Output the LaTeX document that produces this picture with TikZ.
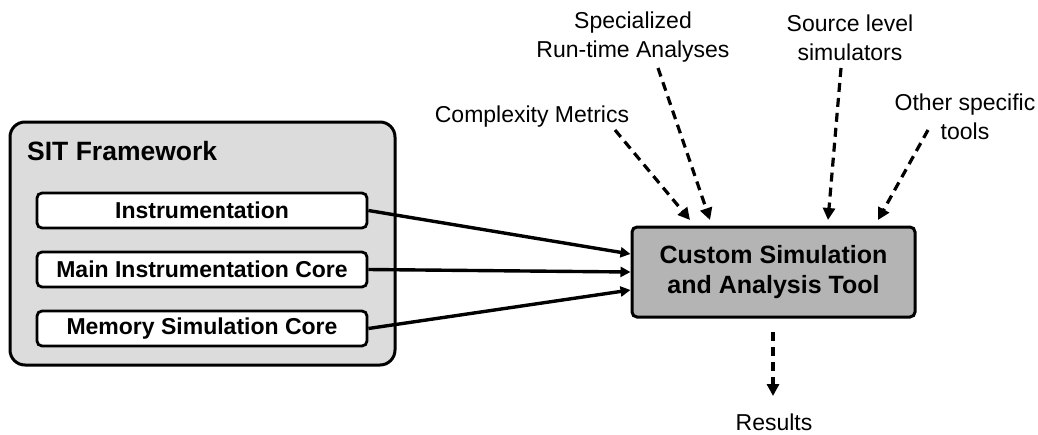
\documentclass[tikz,border=0pt]{standalone}
\usepackage{fontspec}
\setmainfont{Liberation Sans}
\usetikzlibrary{arrows.meta}
\definecolor{frameFill}{RGB}{220,220,220}
\definecolor{toolFill}{RGB}{180,180,180}
\tikzset{
  framebox/.style={draw, line width=3pt, rounded corners=15pt, fill=frameFill,
    minimum width=385pt, minimum height=243pt, inner sep=0pt},
  partbox/.style={draw, line width=2.8pt, rounded corners=5pt, fill=white,
    minimum width=330pt, minimum height=35pt, inner sep=0pt,
    font=\fontsize{23}{26}\selectfont\bfseries},
  toolbox/.style={draw, line width=3pt, rounded corners=5pt, fill=toolFill,
    minimum width=283pt, minimum height=90pt, inner sep=0pt, align=center,
    font=\fontsize{25}{30}\selectfont\bfseries},
  lbl/.style={align=center, inner sep=0pt, font=\fontsize{23}{29}\selectfont},
  feed/.style={line width=3.4pt, -{Triangle[length=10pt, width=10pt]}},
  extra/.style={line width=3.2pt, dash pattern=on 9pt off 6pt,
    -{Triangle[length=12pt, width=12pt]}}
}
\begin{document}
\begin{tikzpicture}[x=1pt, y=-1pt]
  \useasboundingbox (0,0) rectangle (1038,434);

  % SIT framework with its three parts
  \node[framebox] (sit) at (202.5,243.5) {};
  \node[anchor=base west, inner sep=0pt, font=\fontsize{26.5}{30}\selectfont\bfseries]
    (sittitle) at (27,160) {SIT Framework};
  \node[partbox] (inst) at (202,210.5) {Instrumentation};
  \node[partbox] (core) at (202,269.5) {Main Instrumentation Core};
  \node[partbox] (mem)  at (202,328.5) {Memory Simulation Core};

  % central tool
  \node[toolbox] (tool) at (773.5,272) {Custom Simulation\\and Analysis Tool};

  % surrounding labels
  \node[lbl] (cm)  at (532,117)   {Complexity Metrics};
  \node[lbl] (sra) at (633,37.5)  {Specialized\\Run-time Analyses};
  \node[lbl] (sls) at (850,37.5)  {Source level\\simulators};
  \node[lbl] (ost) at (965,116.5) {Other specific\\tools};
  \node[lbl, anchor=base] (res) at (774,430.5) {Results};

  % dashed arrow end points
  \coordinate (cmS)  at (615,130);  \coordinate (cmE)  at (690,220);
  \coordinate (sraS) at (658,68);   \coordinate (sraE) at (710,220);
  \coordinate (slsS) at (841,68);   \coordinate (slsE) at (828,220);
  \coordinate (ostS) at (928,130);  \coordinate (ostE) at (878,220);
  \coordinate (resS) at (773,332);  \coordinate (resE) at (773,396);

  % framework parts feeding the tool
  \draw[feed] (inst.east) -- (tool.west |- 0,254);
  \draw[feed] (core.east) -- (tool.west |- 0,272);
  \draw[feed] (mem.east)  -- (tool.west |- 0,290);

  % optional inputs and output
  \draw[extra] (cmS)  -- (cmE);
  \draw[extra] (sraS) -- (sraE);
  \draw[extra] (slsS) -- (slsE);
  \draw[extra] (ostS) -- (ostE);
  \draw[extra] (resS) -- (resE);
\end{tikzpicture}
\end{document}
